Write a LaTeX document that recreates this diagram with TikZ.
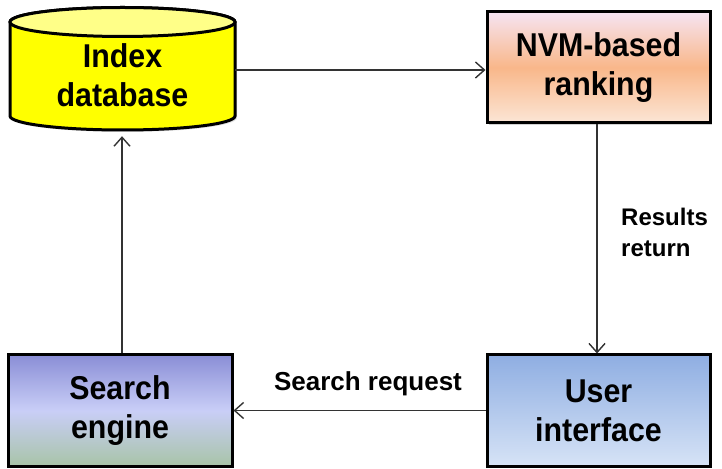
\documentclass[tikz,border=0pt]{standalone}
\usepackage{fontspec}
\setmainfont{Liberation Sans}
\newfontfamily\boxfont[FakeStretch=0.92]{Liberation Sans}
\usetikzlibrary{arrows.meta,shadows}
\definecolor{cylbody}{HTML}{FFFF00}
\definecolor{cyltop}{HTML}{FFFF88}
\definecolor{nvmtop}{HTML}{F6E4F2}
\definecolor{nvmmid}{HTML}{F9B78A}
\definecolor{nvmbot}{HTML}{FBE6D6}
\definecolor{setop}{HTML}{8A8ED6}
\definecolor{semid}{HTML}{C9CEF7}
\definecolor{sebot}{HTML}{A8C4A8}
\definecolor{uitop}{HTML}{8FAEE2}
\definecolor{uibot}{HTML}{D6E3F6}
\definecolor{linec}{HTML}{333333}
\tikzset{
  boxtext/.style={font=\boxfont\fontsize{33}{39}\selectfont\bfseries, align=center},
  box/.style={boxtext, draw=black, line width=3pt, minimum width=223pt, minimum height=111pt,
    drop shadow={shadow xshift=2pt, shadow yshift=-2pt, opacity=0.35}},
  conn/.style={draw=linec, line width=1.4pt, -{Straight Barb[length=9pt,width=16pt,line width=1.4pt]}},
  lbl/.style={font=\fontsize{24}{31}\selectfont\bfseries, align=left, inner sep=0pt}
}
\begin{document}
\begin{tikzpicture}[x=1pt,y=1pt]
\useasboundingbox (0,0) rectangle (722,468);
% cylinder
\fill[gray!60, opacity=0.35] (12,444) -- (12,350) arc (180:360:112.5 and 14) -- (237,444) -- cycle;
\draw[line width=3pt, fill=cylbody] (10,446) -- (10,352) arc (180:360:112.5 and 14) -- (235,446) arc (0:180:112.5 and 14.5) -- cycle;
\draw[line width=3pt, fill=cyltop] (122.5,446) ellipse (112.5 and 14.5);
\node[boxtext, inner sep=0pt, minimum width=225pt, minimum height=122pt] (idx) at (122.5,393) {Index\\database};
% boxes
\node[box, top color=nvmtop, bottom color=nvmbot, middle color=nvmmid] (nvm) at (598.5,400.5) {NVM-based\\ranking};
\node[box, top color=uitop, bottom color=uibot] (ui) at (598.5,57.5) {User\\interface};
\node[box, top color=setop, bottom color=sebot, middle color=semid, minimum width=224pt] (se) at (120,57.5) {Search\\engine};
% connectors
\draw[conn] (idx.east |- 0,398) -- (nvm.west |- 0,398);
\draw[conn] (nvm.south -| 597,0) -- (ui.north -| 597,0);
\draw[conn] (ui.west) -- (se.east);
\draw[conn] (se.north -| 122,0) -- (idx.south -| 122,0);
% labels
\node[lbl, anchor=west] (lr) at (621,236) {Results\\return};
\node[lbl, font=\fontsize{26}{31}\selectfont\bfseries] (ls) at (368,84) {Search request};
\end{tikzpicture}
\end{document}
